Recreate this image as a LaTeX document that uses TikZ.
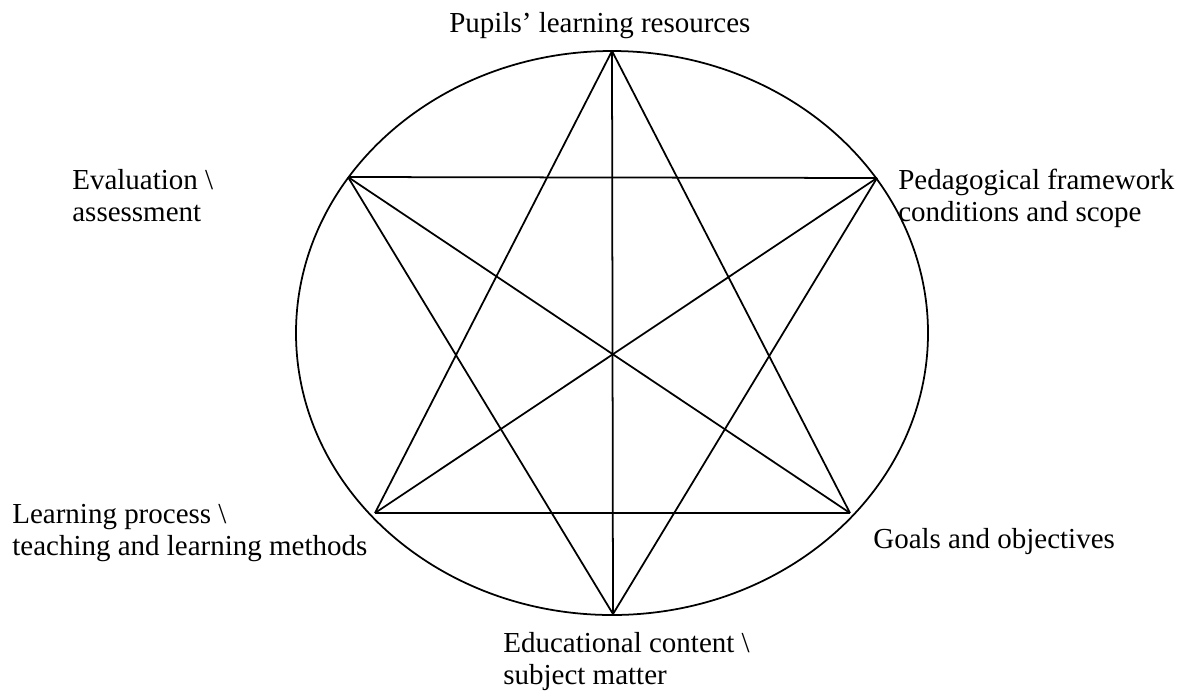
\documentclass[tikz,border=0pt]{standalone}
\usepackage{fontspec}
\setmainfont{Liberation Serif}
\begin{document}
\begin{tikzpicture}[x=0.02cm,y=-0.02cm,
  label/.style={anchor=base west, align=left, inner sep=0pt,
    font=\fontsize{16.5}{18.2}\selectfont}]
  \useasboundingbox (0,0) rectangle (1187,691);
  \begin{scope}
    \coordinate (t) at (612,51);
    \coordinate (ul) at (348,177);
    \coordinate (ur) at (877,178);
    \coordinate (ll) at (375,513);
    \coordinate (lr) at (850,513);
    \coordinate (b) at (613,614);
    \coordinate (c) at (612,333);
  \end{scope}
  \draw[line width=1pt] (c) ellipse [x radius=316, y radius=282];
  \begin{scope}[every edge/.style={draw=black, line width=1pt}]
    \path (t) edge (ll);
    \path (ll) edge (lr);
    \path (lr) edge (t);
    \path (b) edge (ul);
    \path (ul) edge (ur);
    \path (ur) edge (b);
    \path (t) edge (b);
    \path (ul) edge (lr);
    \path (ur) edge (ll);
  \end{scope}
  \node[label] (pupils) at (449,32) {Pupils’ learning resources};
  \node[label] (peda) at (898,221) {Pedagogical framework\\conditions and scope};
  \node[label] (eval) at (72,221) {Evaluation \textbackslash\\assessment};
  \node[label] (learn) at (12,555) {Learning process \textbackslash\\teaching and learning methods};
  \node[label] (goals) at (873,548) {Goals and objectives};
  \node[label] (content) at (503,684) {Educational content \textbackslash\\subject matter};
\end{tikzpicture}
\end{document}
